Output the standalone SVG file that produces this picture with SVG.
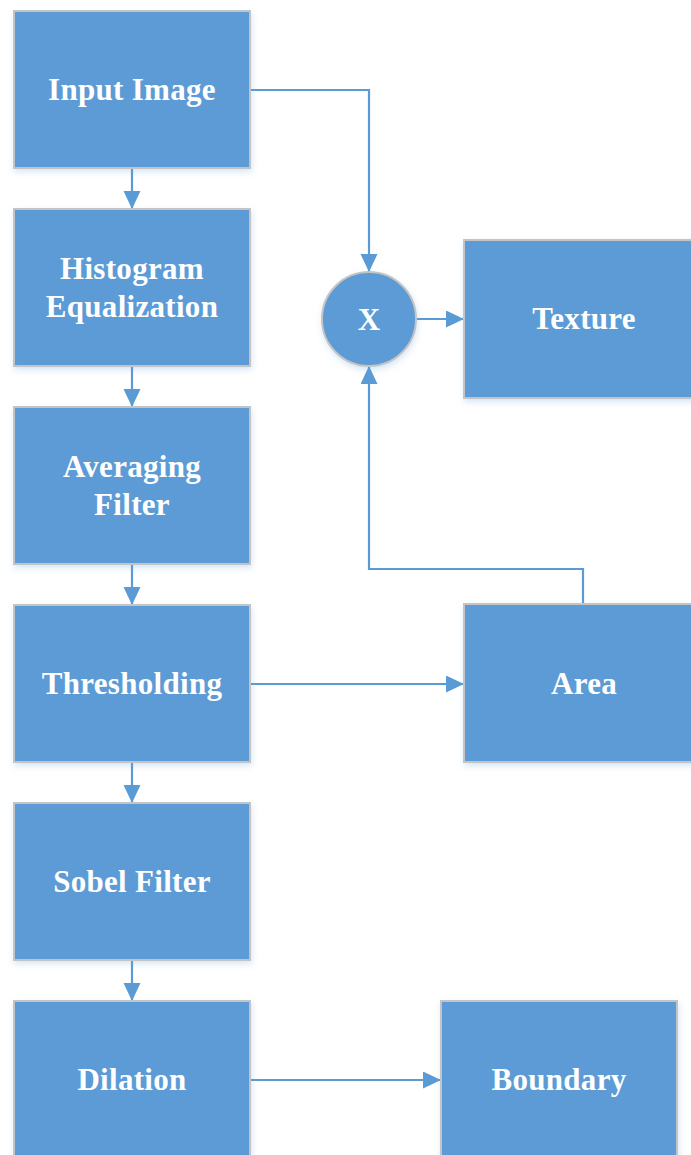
<svg xmlns="http://www.w3.org/2000/svg" width="691" height="1155" viewBox="0 0 691 1155">
  <style>
    .box { fill: #5b9bd5; stroke: #c4c4c4; stroke-width: 2; filter: url(#shadow); }
    .label { font-family: "Liberation Serif", "Times New Roman", serif; font-weight: bold; font-size: 31px; letter-spacing: 0.3px; fill: #ffffff; text-anchor: middle; }
    .wire { fill: none; stroke: #5b9bd5; stroke-width: 2.2; }
  </style>
  <defs>
    <filter id="shadow" x="-10%" y="-10%" width="125%" height="130%">
      <feDropShadow dx="1" dy="3" stdDeviation="3" flood-color="#5b9bd5" flood-opacity="0.25"/>
    </filter>
    <marker id="arrow" markerUnits="userSpaceOnUse" markerWidth="19" markerHeight="19" refX="18" refY="8.5" orient="auto">
      <path d="M0,0 L18,8.5 L0,17 Z" fill="#5b9bd5"/>
    </marker>
  </defs>
  <rect width="691" height="1155" fill="#ffffff"/>

  <!-- connectors -->
  <g id="connectors">
    <path class="wire" d="M132,168 V209" marker-end="url(#arrow)"/>
    <path class="wire" d="M132,366 V407" marker-end="url(#arrow)"/>
    <path class="wire" d="M132,564 V605" marker-end="url(#arrow)"/>
    <path class="wire" d="M132,762 V803" marker-end="url(#arrow)"/>
    <path class="wire" d="M132,960 V1001" marker-end="url(#arrow)"/>
    <path class="wire" d="M250,90 H369 V272" marker-end="url(#arrow)"/>
    <path class="wire" d="M416,319 H464" marker-end="url(#arrow)"/>
    <path class="wire" d="M583,604 V569 H369 V366" marker-end="url(#arrow)"/>
    <path class="wire" d="M250,684 H464" marker-end="url(#arrow)"/>
    <path class="wire" d="M250,1080 H441" marker-end="url(#arrow)"/>
  </g>

  <!-- processing chain -->
  <g id="input-image">
    <rect class="box" x="14" y="11" width="236" height="157"/>
    <text class="label" x="132" y="100">Input Image</text>
  </g>
  <g id="histogram-equalization">
    <rect class="box" x="14" y="209" width="236" height="157"/>
    <text class="label" x="132" y="279">Histogram</text>
    <text class="label" x="132" y="317">Equalization</text>
  </g>
  <g id="averaging-filter">
    <rect class="box" x="14" y="407" width="236" height="157"/>
    <text class="label" x="132" y="477">Averaging</text>
    <text class="label" x="132" y="515">Filter</text>
  </g>
  <g id="thresholding">
    <rect class="box" x="14" y="605" width="236" height="157"/>
    <text class="label" x="132" y="694">Thresholding</text>
  </g>
  <g id="sobel-filter">
    <rect class="box" x="14" y="803" width="236" height="157"/>
    <text class="label" x="132" y="892">Sobel Filter</text>
  </g>
  <g id="dilation">
    <rect class="box" x="14" y="1001" width="236" height="170"/>
    <text class="label" x="132" y="1090">Dilation</text>
  </g>

  <!-- outputs -->
  <g id="multiply">
    <circle class="box" cx="369" cy="319" r="47"/>
    <text class="label" x="369" y="330">X</text>
  </g>
  <g id="texture">
    <rect class="box" x="464" y="240" width="236" height="158"/>
    <text class="label" x="584" y="329">Texture</text>
  </g>
  <g id="area">
    <rect class="box" x="464" y="604" width="236" height="158"/>
    <text class="label" x="584" y="694">Area</text>
  </g>
  <g id="boundary">
    <rect class="box" x="441" y="1001" width="236" height="170"/>
    <text class="label" x="559" y="1090">Boundary</text>
  </g>
</svg>
